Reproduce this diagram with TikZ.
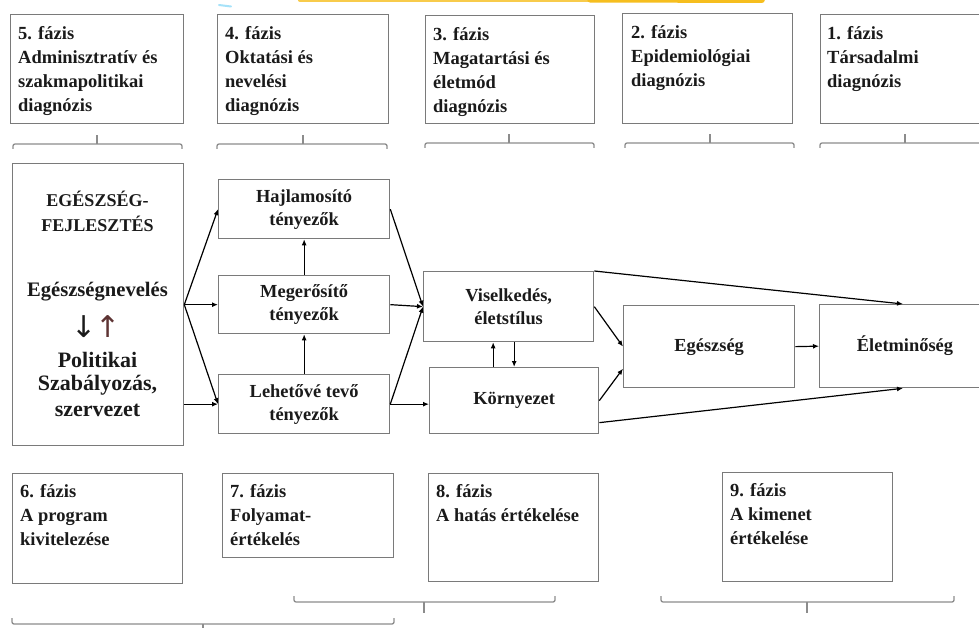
\documentclass[tikz,border=0pt]{standalone}
\usepackage{fontspec}
\setmainfont{Liberation Serif}
\newfontfamily\arrowfont{DejaVu Sans}
\usetikzlibrary{arrows.meta,calc}

\definecolor{boxgray}{HTML}{7A7A7A}
\definecolor{bracegray}{HTML}{8C8C8C}
\definecolor{ink}{HTML}{1A1A1A}
\definecolor{marker}{HTML}{F6BE1E}
\definecolor{upcol}{HTML}{5E3434}

\tikzset{
  box/.style={draw=boxgray, line width=1.3pt, inner sep=0pt, anchor=north west, text=ink},
  phase/.style={anchor=north west, align=left, inner sep=0pt, text=ink,
    font=\fontsize{18.5}{24}\selectfont\bfseries},
  factor/.style={box, align=center, font=\fontsize{18.4}{23}\selectfont\bfseries},
  bigtxt/.style={inner sep=0pt, text=ink, font=\bfseries},
  arr/.style={draw=black, line width=1.2pt, -{Latex[length=6pt,width=5pt]}},
  brace/.style={draw=bracegray, line width=1.3pt, rounded corners=2pt},
}

\begin{document}
\begin{tikzpicture}[x=1pt,y=-1pt]
\useasboundingbox (0,0) rectangle (979,628);
\clip (0,0) rectangle (979,628);

% highlighter stroke along the top edge
\draw[marker!80, line width=4.5pt, line cap=round] (300,-0.3) -- (600,-0.3);
\draw[marker, line width=5.5pt, line cap=round] (590,-0.2) -- (762,0.2);
\draw[cyan!35, line width=2pt, line cap=round] (219,5) -- (231,6.5);

% ---------- diagnostic phases (top row) ----------
\node[box, minimum width=173, minimum height=109] (p5) at (10,14) {};
\node[box, minimum width=171, minimum height=109] (p4) at (217,14) {};
\node[box, minimum width=169, minimum height=108] (p3) at (425,15) {};
\node[box, minimum width=170, minimum height=110] (p2) at (622,13) {};
\node[box, minimum width=200, minimum height=109] (p1) at (820,14) {};

\node[phase] (p5t) at ($(p5.north west)+(8,12)$) {5. fázis\\Adminisztratív és\\szakmapolitikai\\diagnózis};
\node[phase] (p4t) at ($(p4.north west)+(8,12)$) {4. fázis\\Oktatási és\\nevelési\\diagnózis};
\node[phase] (p3t) at ($(p3.north west)+(8,12)$) {3. fázis\\Magatartási és\\életmód\\diagnózis};
\node[phase] (p2t) at ($(p2.north west)+(9,12)$) {2. fázis\\Epidemiológiai\\diagnózis};
\node[phase] (p1t) at ($(p1.north west)+(7,12)$) {1. fázis\\Társadalmi\\diagnózis};

% brackets under the top row
\foreach \a/\b/\m/\y in {13/182/97/144, 217/387/303/144, 425/594/509/143, 625/794/710/143, 820/1000/905/143}{
  \draw[brace] (\a,\y+5) |- (\b,\y) -- (\b,\y+5);
  \draw[brace] (\m,\y) -- (\m,\y-9);
}

% ---------- model ----------
\node[box, minimum width=171, minimum height=282] (big) at (12,163) {};
\node[bigtxt, font=\fontsize{18}{20}\selectfont\bfseries] (bt1) at (97.5,199) {EGÉSZSÉG-};
\node[bigtxt, font=\fontsize{18}{20}\selectfont\bfseries] (bt2) at (97.5,224) {FEJLESZTÉS};
\node[bigtxt, font=\fontsize{20.6}{22}\selectfont\bfseries] (bt3) at (97.5,292) {Egészségnevelés};
\node[bigtxt, font=\fontsize{30}{32}\arrowfont] (bt4) at (96,327) {↓\kern-2pt\textcolor{upcol}{↑}};
\node[bigtxt, font=\fontsize{22}{24}\selectfont\bfseries] (bt5) at (97.5,360) {Politikai};
\node[bigtxt, font=\fontsize{22}{24}\selectfont\bfseries] (bt6) at (97.5,385) {Szabályozás,};
\node[bigtxt, font=\fontsize{22}{24}\selectfont\bfseries] (bt7) at (97.5,410) {szervezet};

\node[factor, minimum width=171, minimum height=59] (haj) at (218,179) {Hajlamosító\\tényezők};
\node[factor, minimum width=171, minimum height=58] (meg) at (218,275) {Megerősítő\\tényezők};
\node[factor, minimum width=171, minimum height=59] (leh) at (218,374) {Lehetővé tevő\\tényezők};

\node[factor, minimum width=170, minimum height=70] (vis) at (423,271) {Viselkedés,\\életstílus};
\node[factor, minimum width=169, minimum height=66] (env) at (429,367) {Környezet};
\node[factor, minimum width=171, minimum height=82] (hea) at (623,305) {Egészség};
\node[box, minimum width=200, minimum height=83] (qol) at (819,304) {};
\node[inner sep=0pt, text=ink, font=\fontsize{18.4}{23}\selectfont\bfseries] (qolt) at (905,346) {Életminőség};

% connectors
\draw[arr] (big.east) -- (haj.west);
\draw[arr] (big.east) -- (meg.west);
\draw[arr] (big.east) -- (leh.west);
\draw[arr] (big.east |- leh.west) -- (leh.west);
\draw[arr] (leh.north) -- (meg.south);
\draw[arr] (meg.north) -- (haj.south);

\draw[arr] (haj.east) -- (vis.west);
\draw[arr] (meg.east) -- (vis.west);
\draw[arr] (leh.east) -- (vis.west);
\draw[arr] (leh.east) -- (leh.east -| env.west);

\coordinate (envup) at ($(env.north)+(-21,0)$);
\draw[arr] (envup) -- (envup |- vis.south);
\draw[arr] (env.north |- vis.south) -- (env.north);

\draw[arr] (vis.east) -- (hea.west);
\draw[arr] (env.east) -- ($(hea.west)+(0,22)$);
\draw[arr] (hea.east) -- (qol.west);
\draw[arr] (vis.north east) -- ($(qol.north west)+(84,0)$);
\draw[arr] ($(env.east)+(0,22)$) -- ($(qol.south west)+(84,0)$);

% ---------- implementation and evaluation phases (bottom row) ----------
\node[box, minimum width=170, minimum height=110] (b6) at (12,473) {};
\node[box, minimum width=171, minimum height=84] (b7) at (222,473) {};
\node[box, minimum width=170, minimum height=108] (b8) at (428,473) {};
\node[box, minimum width=170, minimum height=109] (b9) at (722,472) {};

\node[phase] (b6t) at ($(b6.north west)+(8,11)$) {6. fázis\\A program\\kivitelezése};
\node[phase] (b7t) at ($(b7.north west)+(8,11)$) {7. fázis\\Folyamat-\\értékelés};
\node[phase] (b8t) at ($(b8.north west)+(8,11)$) {8. fázis\\A hatás értékelése};
\node[phase] (b9t) at ($(b9.north west)+(8,11)$) {9. fázis\\A kimenet\\értékelése};

% brackets under the bottom row
\foreach \a/\b/\m/\y in {294/555/424/602, 661/954/807/602, 12/394/203/624}{
  \draw[brace] (\a,\y-6) |- (\b,\y) -- (\b,\y-6);
  \draw[brace] (\m,\y) -- (\m,\y+11);
}
\end{tikzpicture}
\end{document}
